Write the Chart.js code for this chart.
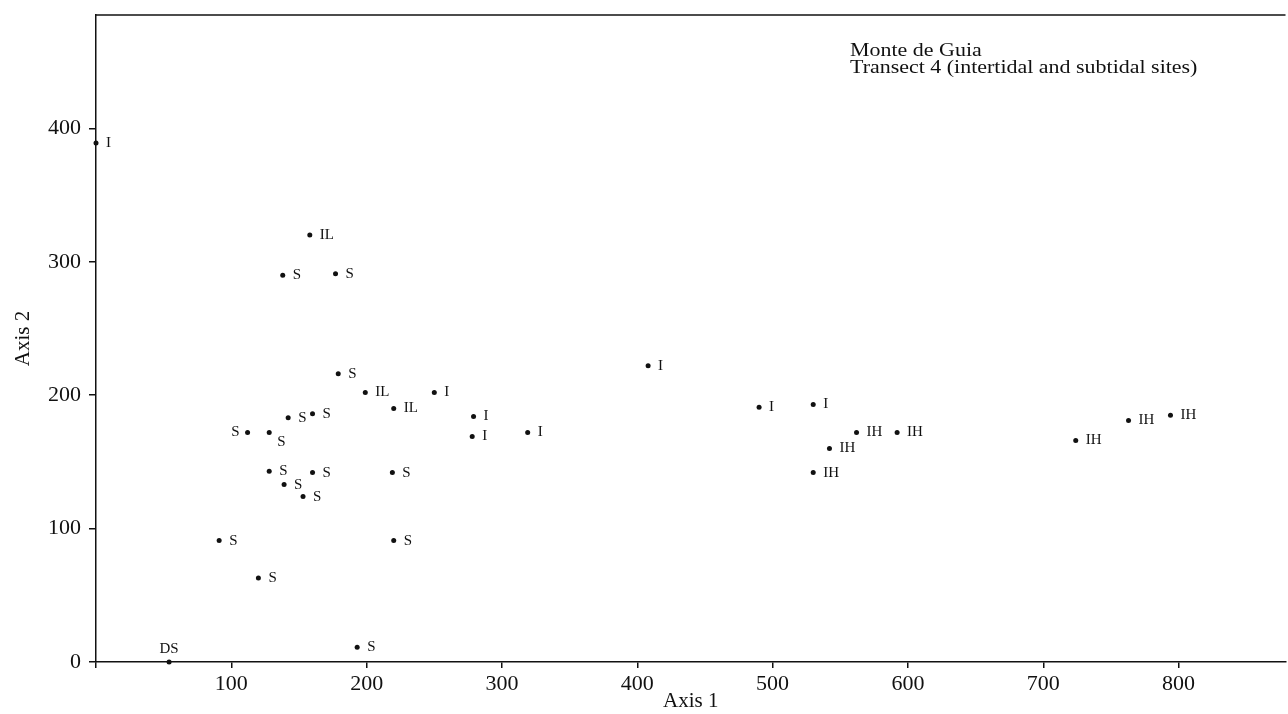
<!DOCTYPE html>
<html>
<head>
<meta charset="utf-8">
<title>Monte de Guia - Transect 4</title>
<script src="https://cdn.jsdelivr.net/npm/chart.js@4/dist/chart.umd.min.js"></script>
<style>
  html, body { margin: 0; padding: 0; background: #fff; }
  canvas { display: block; }
</style>
</head>
<body>
<canvas id="ordination" width="1288" height="714"></canvas>
<script>
// Site scores
const axis1 = [0, 158, 138, 177, 179, 199, 250, 220, 142, 160, 112, 128, 128, 139, 160, 153, 219, 91, 220, 120, 193, 54, 279, 278, 319, 408, 490, 530, 562, 542, 530, 592, 724, 763, 794];
const axis2 = [389, 320, 290, 291, 216, 202, 202, 190, 183, 186, 172, 172, 143, 133, 142, 124, 142, 91, 91, 63, 11, 0, 184, 169, 172, 222, 191, 193, 172, 160, 142, 172, 166, 181, 185];
const siteCodes = ['I', 'IL', 'S', 'S', 'S', 'IL', 'I', 'IL', 'S', 'S', 'S', 'S', 'S', 'S', 'S', 'S', 'S', 'S', 'S', 'S', 'S', 'DS', 'I', 'I', 'I', 'I', 'I', 'I', 'IH', 'IH', 'IH', 'IH', 'IH', 'IH', 'IH'];

const xTicks = [0, 100, 200, 300, 400, 500, 600, 700, 800];
const yTicks = [0, 100, 200, 300, 400];
const titleLines = ['Monte de Guia', 'Transect 4 (intertidal and subtidal sites)'];

const serif = "'Liberation Serif', 'DejaVu Serif', serif";

// where each code sits relative to its dot (most are to the right)
const labelSide = siteCodes.map(function(c, i) {
  if (i === 10) return 'left';
  if (i === 11) return 'below';
  if (c === 'DS') return 'above';
  return 'right';
});

const points = axis1.map(function(x, i) { return { x: x, y: axis2[i] }; });

// draws the site code next to each point
const siteLabels = {
  id: 'siteLabels',
  afterDatasetsDraw(chart) {
    const ctx = chart.ctx;
    const meta = chart.getDatasetMeta(0);
    ctx.save();
    ctx.fillStyle = '#111';
    ctx.font = '15px ' + serif;
    meta.data.forEach(function(el, i) {
      const side = labelSide[i];
      let x = el.x, y = el.y;
      if (side === 'left') {
        ctx.textAlign = 'right'; ctx.textBaseline = 'middle';
        x -= 8;
      } else if (side === 'below') {
        ctx.textAlign = 'left'; ctx.textBaseline = 'middle';
        x += 8; y += 10;
      } else if (side === 'above') {
        ctx.textAlign = 'center'; ctx.textBaseline = 'bottom';
        y -= 5;
      } else {
        ctx.textAlign = 'left'; ctx.textBaseline = 'middle';
        x += 10;
      }
      ctx.fillText(siteCodes[i], x, y);
    });
    ctx.restore();
  }
};

// top frame line and the note in the upper right
const frame = {
  id: 'frame',
  afterDraw(chart) {
    const ctx = chart.ctx;
    const a = chart.chartArea;
    ctx.save();
    ctx.strokeStyle = '#111';
    ctx.lineWidth = 1.5;
    ctx.beginPath();
    ctx.moveTo(a.left, a.top);
    ctx.lineTo(a.right, a.top);
    ctx.stroke();
    ctx.fillStyle = '#111';
    ctx.font = '18px ' + serif;
    ctx.textAlign = 'left';
    ctx.textBaseline = 'alphabetic';
    // the scanned note is a little wider than the font, stretch it
    ctx.translate(a.left + 754, a.top);
    ctx.scale(1.22, 1);
    ctx.fillText(titleLines[0], 0, 41);
    ctx.fillText(titleLines[1], 0, 58);
    ctx.restore();
  }
};

new Chart(document.getElementById('ordination'), {
  type: 'scatter',
  data: {
    datasets: [{
      label: 'Sites',
      data: points,
      pointRadius: 2.5,
      pointHoverRadius: 2.5,
      pointBackgroundColor: '#111',
      pointBorderColor: '#111',
      pointBorderWidth: 0,
      clip: false
    }]
  },
  options: {
    responsive: false,
    animation: false,
    layout: { padding: { top: 15, right: 0, bottom: 0, left: 0 } },
    plugins: {
      legend: { display: false },
      tooltip: { enabled: false }
    },
    scales: {
      x: {
        type: 'linear',
        min: 0,
        max: 879,
        afterBuildTicks: function(scale) {
          scale.ticks = xTicks.map(function(v) { return { value: v }; });
        },
        afterFit: function(scale) {
          scale.height = 52;
          scale.paddingLeft = 0;
          scale.paddingRight = 0;
        },
        ticks: {
          color: '#111',
          padding: 3,
          maxRotation: 0,
          font: { family: serif, size: 22 },
          callback: function(v) { return v === 0 ? '' : v; }
        },
        grid: {
          drawOnChartArea: false,
          drawTicks: true,
          tickLength: 6,
          color: '#111',
          lineWidth: 1.5
        },
        border: { display: true, color: '#111', width: 1.5 },
        title: {
          display: true,
          text: 'Axis 1',
          color: '#111',
          padding: 0,
          font: { family: serif, size: 21 }
        }
      },
      y: {
        type: 'linear',
        min: 0,
        max: 485,
        afterBuildTicks: function(scale) {
          scale.ticks = yTicks.map(function(v) { return { value: v }; });
        },
        afterFit: function(scale) {
          scale.width = 96;
          scale.paddingTop = 0;
          scale.paddingBottom = 0;
        },
        ticks: {
          color: '#111',
          padding: 8,
          font: { family: serif, size: 22 }
        },
        grid: {
          drawOnChartArea: false,
          drawTicks: true,
          tickLength: 7,
          color: '#111',
          lineWidth: 1.5
        },
        border: { display: true, color: '#111', width: 1.5 },
        title: {
          display: true,
          text: 'Axis 2',
          color: '#111',
          padding: { top: 11, bottom: 0 },
          font: { family: serif, size: 21 }
        }
      }
    }
  },
  plugins: [siteLabels, frame]
});
</script>
</body>
</html>
